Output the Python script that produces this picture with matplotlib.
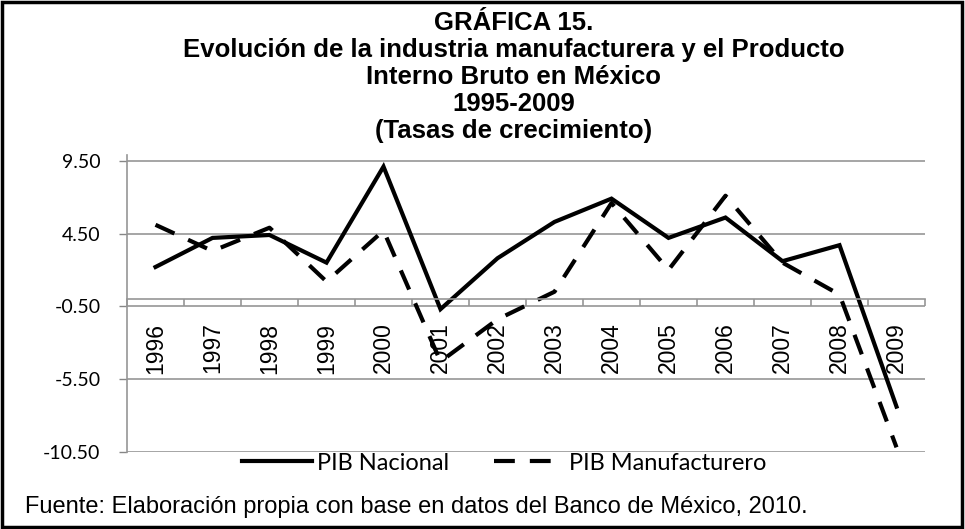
import numpy as np
import matplotlib
matplotlib.use("Agg")
import matplotlib.pyplot as plt
from matplotlib.patches import Rectangle

# datos (tasas de crecimiento, %)
years = ["1996", "1997", "1998", "1999", "2000", "2001", "2002",
         "2003", "2004", "2005", "2006", "2007", "2008", "2009"]
pib_nacional = [2.2, 4.2, 4.4, 2.5, 9.1, -0.7, 2.8, 5.3, 6.9, 4.2, 5.6, 2.6, 3.7, -7.4]
pib_manuf = [5.1, 3.3, 4.9, 1.2, 4.7, -4.3, -1.4, 0.5, 6.6, 2.0, 7.1, 2.5, 0.3, -10.2]
yticks = [9.5, 4.5, -0.5, -5.5, -10.5]

title_lines = ["GRÁFICA 15.",
               "Evolución de la industria manufacturera y el Producto",
               "Interno Bruto en México",
               "1995-2009",
               "(Tasas de crecimiento)"]
fuente = "Fuente: Elaboración propia con base en datos del Banco de México, 2010."

W, H = 965, 529
fig = plt.figure(figsize=(W / 100, H / 100), dpi=100)
ax = fig.add_axes([127 / W, 1 - 451.7 / H, (925 - 127) / W, (451.7 - 155) / H])

x = np.arange(len(years))
ax.plot(x, pib_nacional, color="black", lw=3, label="PIB Nacional", solid_joinstyle="miter")
ax.plot(x, pib_manuf, color="black", lw=3, ls=(0, (5, 3.6)), label="PIB Manufacturero")

ax.set_xlim(-0.5, len(years) - 0.5)
ax.set_ylim(-10.5, 9.9)

# eje y
ax.set_yticks(yticks)
ax.set_yticklabels(["%.2f" % v for v in yticks], fontfamily="Lato", fontsize=14)
ax.tick_params(axis="y", length=6, width=1, color="#868686", pad=13)
ax.yaxis.grid(True, color="#969696", lw=1.2)
ax.set_axisbelow(True)

# eje x cruza en 0, marcas entre categorias
ax.spines["bottom"].set_position(("data", 0))
ax.spines["bottom"].set_color("#969696")
ax.spines["bottom"].set_linewidth(1.2)
ax.spines["left"].set_color("#969696")
ax.spines["left"].set_linewidth(1.2)
ax.spines["top"].set_visible(False)
ax.spines["right"].set_visible(False)

ax.set_xticks(x)
ax.set_xticklabels(years, rotation=90, fontfamily="Liberation Sans", fontsize=16.5)
ax.set_xticks(np.arange(len(years) + 1) - 0.5, minor=True)
ax.tick_params(axis="x", which="major", length=0, pad=17)
ax.tick_params(axis="x", which="minor", length=5, width=1.2, color="#969696")

# titulo linea por linea
title_y = [23, 50, 77, 104, 131]
for txt, yy in zip(title_lines, title_y):
    fig.text(514 / W, 1 - yy / H, txt, ha="center", va="center",
             fontfamily="Liberation Sans", fontweight="bold", fontsize=18.5)

leg = fig.legend(loc="center", bbox_to_anchor=(504 / W, 1 - 463 / H), ncol=2,
                 frameon=False, prop={"family": "Lato", "size": 17},
                 handlelength=2.95, handletextpad=0.22, columnspacing=1.9)

fig.text(25 / W, 1 - 507 / H, fuente, ha="left", va="center",
         fontfamily="Liberation Sans", fontsize=17)

# marco exterior
fig.patches.append(Rectangle((0.002, 0.003), 0.995, 0.994, transform=fig.transFigure,
                             fill=False, edgecolor="black", lw=2.5))

fig.savefig("out.png", dpi=100)
